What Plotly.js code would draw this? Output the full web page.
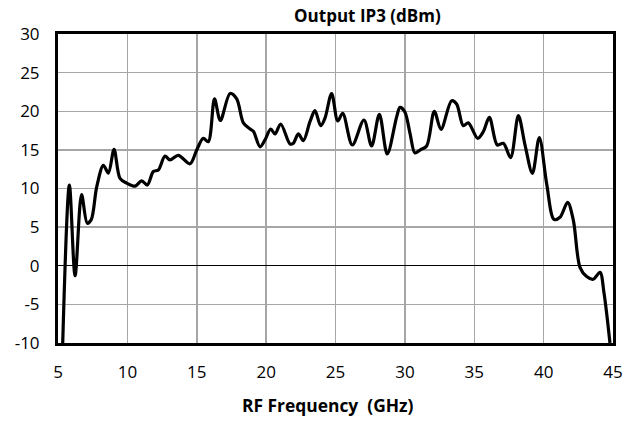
<!DOCTYPE html>
<html><head><meta charset="utf-8">
<script src="https://cdn.plot.ly/plotly-3.0.1.min.js"></script>
<style>html,body{margin:0;padding:0;background:#fff}#c{width:639px;height:421px}</style>
</head><body><div id="c"></div>
<script>
const freqGHz = [5.34,5.82,6.23,6.7,7.11,7.4,7.79,8.27,8.63,9.04,9.47,9.95,10.55,11.03,11.44,11.87,12.23,12.71,13.07,13.67,14.51,15.0,15.47,15.83,16.28,16.7,17.4,17.88,18.36,18.84,19.08,19.56,19.92,20.33,20.64,21.05,21.72,21.96,22.32,22.68,23.16,23.52,23.93,24.24,24.72,25.16,25.52,26.21,27.05,27.6,28.16,28.73,29.41,29.65,30.0,30.37,30.73,31.09,31.57,32.12,32.6,33.37,33.73,34.21,34.57,35.25,35.65,36.09,36.66,37.1,37.62,38.18,38.66,39.19,39.69,40.22,40.75,41.18,41.73,42.14,42.62,43.1,43.58,44.06,44.35,44.78];
const oip3dBm = [-10,10.45,-1.3,9.2,5.5,6.0,10.2,13.0,12.0,15.07,11.3,10.7,10.3,11.0,10.45,12.2,12.4,14.2,13.7,14.3,13.2,15.0,16.5,16.06,21.6,18.8,22.3,21.6,18.5,17.7,17.4,15.4,16.3,17.7,17.06,18.35,15.76,15.85,17.06,16.2,18.65,20.07,18.13,19.1,22.3,18.74,19.74,15.63,18.87,15.5,19.6,14.47,19.3,20.5,19.9,17.15,14.6,14.98,15.5,20.0,17.66,21.37,20.94,18.13,18.5,16.5,17.35,19.2,15.63,15.85,14.0,19.43,15.63,11.97,16.6,10.6,6.0,6.27,8.2,5.9,-0.2,-1.4,-1.75,-0.85,-3.5,-10];
const xTicks = [5,10,15,20,25,30,35,40,45];
const yTicks = [-10,-5,0,5,10,15,20,25,30];
const chartTitle = 'Output IP3 (dBm)';
const xTitle = 'RF Frequency  (GHz)';

const font = 'Open Sans, Noto Sans, sans-serif';
Plotly.newPlot('c', [{
  x: freqGHz, y: oip3dBm, type: 'scatter', mode: 'lines',
  line: {color: '#000', width: 3.2, shape: 'spline', smoothing: 0.9},
  cliponaxis: true, hoverinfo: 'skip'
}], {
  width: 639, height: 421,
  margin: {l: 58, r: 26, t: 34, b: 78},
  paper_bgcolor: '#fff', plot_bgcolor: '#fff',
  showlegend: false,
  font: {family: font, color: '#000', size: 17},
  title: {text: '<b>' + chartTitle + '</b>', x: 0.575, xref: 'container', xanchor: 'center', y: 0.962, yref: 'container', yanchor: 'middle', font: {size: 17, family: font, color: '#000'}},
  annotations: [{text: '<b>' + xTitle.replace(/  /g, ' &nbsp;') + '</b>', xref: 'paper', yref: 'paper', x: 0.487, y: -0.2, xanchor: 'center', yanchor: 'middle', showarrow: false, font: {size: 17.4, family: font, color: '#000'}}],
  xaxis: {range: [5, 45], tickvals: xTicks, ticktext: xTicks.map(String), ticks: '', ticklabelstandoff: 12,
    showgrid: true, gridcolor: '#a6a6a6', gridwidth: 1.5, zeroline: false,
    showline: true, linecolor: '#000', linewidth: 3, mirror: true, fixedrange: true},
  yaxis: {range: [-10, 30], tickvals: yTicks, ticktext: yTicks.map(String), ticks: '', ticklabelstandoff: 12,
    showgrid: true, gridcolor: '#a6a6a6', gridwidth: 1.5, zeroline: true, zerolinecolor: '#000', zerolinewidth: 1,
    showline: true, linecolor: '#000', linewidth: 3, mirror: true, fixedrange: true}
}, {displayModeBar: false, staticPlot: true});
</script></body></html>
